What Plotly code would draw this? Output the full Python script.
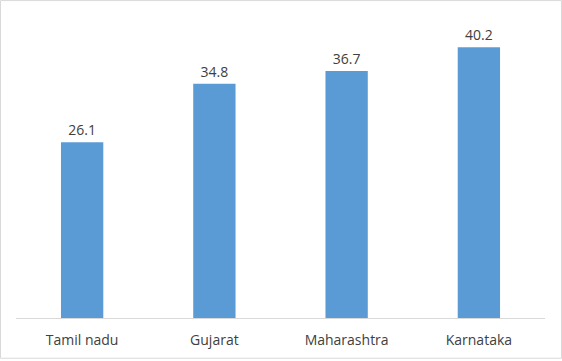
import plotly.graph_objects as go

states = ["Tamil nadu", "Gujarat", "Maharashtra", "Karnataka"]
values = [26.1, 34.8, 36.7, 40.2]

L, R, T, B = 16, 17, 15, 41
W, H = 562, 361
pw, ph = W - L - R, H - T - B
FONT = "Open Sans, sans-serif"

fig = go.Figure(go.Bar(
    x=states, y=values,
    marker=dict(color="#5B9BD5", line=dict(width=0)),
    text=[f"{v:.1f}" for v in values],
    textposition="outside",
    textfont=dict(family=FONT, size=14, color="#404040"),
    cliponaxis=False,
))

fig.update_layout(
    width=W, height=H,
    margin=dict(l=L, r=R, t=T, b=B),
    paper_bgcolor="white", plot_bgcolor="white",
    bargap=0.68,
    showlegend=False,
    font=dict(family=FONT, size=14, color="#404040"),
    xaxis=dict(showline=True, linecolor="#d9d9d9", linewidth=1,
               ticks="outside", ticklen=9, tickcolor="rgba(0,0,0,0)",
               showgrid=False, zeroline=False),
    yaxis=dict(range=[0, 45], visible=False, showgrid=False, zeroline=False),
    shapes=[dict(type="rect", xref="paper", yref="paper",
                 x0=(0.5 - L) / pw, x1=(W - 0.5 - L) / pw,
                 y0=-(B - 0.5) / ph, y1=(ph + T - 0.5) / ph,
                 line=dict(color="#d9d9d9", width=1), fillcolor="rgba(0,0,0,0)")],
)

fig.write_html("out.html", config={"displayModeBar": False},
               post_script="document.body.style.margin='0';")
